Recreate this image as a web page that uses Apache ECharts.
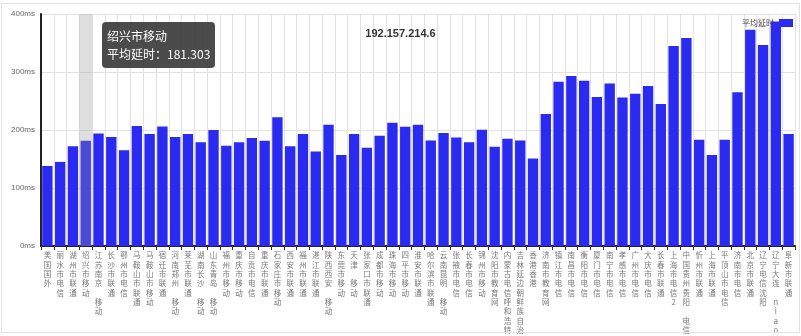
<!DOCTYPE html>
<html>
<head>
<meta charset="utf-8">
<script src="https://cdn.jsdelivr.net/npm/echarts@6/dist/echarts.min.js"></script>
<style>
html,body{margin:0;padding:0;background:#fff;}
#c{position:absolute;left:0;top:0;width:801px;height:336px;}
#frame{position:absolute;left:1px;top:3px;width:797px;height:328px;border:1px solid #e3e3e3;pointer-events:none;}
</style>
</head>
<body>
<div id="c"></div>
<div id="frame"></div>
<script>
const titleText = '192.157.214.6';
const seriesName = '平均延时';
const categories = [
  '美国国外','丽水市电信','湖州市联通','绍兴市移动','江苏南京 移动','长沙市联通','鄂州市电信','马鞍山市联通','马鞍山市移动','宿迁市联通',
  '河南郑州 移动','莱芜市联通','湖南长沙 移动','山东青岛 移动','福州市移动','重庆市移动','自贡市电信','重庆市联通','石家庄市移动','西安市联通',
  '福州市联通','湛江市联通','陕西西安 移动','东莞市移动','天津 移动','张家口市联通','成都市移动','珠海市移动','四平市移动','淮安市联通',
  '哈尔滨市联通','云南昆明 移动','张掖市电信','长春市电信','锦州市移动','沈阳市教育网','内蒙古电信呼和浩特','吉林延边朝鲜族自治州','香港香港','济南市教育网',
  '镇江市电信','南昌市电信','衡阳市电信','厦门市电信','南宁市电信','孝感市电信','广州市电信','大庆市电信','长春市联通','上海市电信2',
  '中国贵州贵阳 电信','忻州市联通','上海市联通','平顶山市电信','济南市电信','北京市联通','辽宁电信沈阳','辽宁大连 niao','阜新市联通'
];
const latency = [
  138, 145, 172, 181.303, 194, 188, 165, 207, 193, 206,
  188, 193, 179, 200, 173, 179, 186, 181.6, 222, 172,
  193, 163, 209, 157, 193, 169.5, 190, 212.6, 205.7, 209,
  182, 195, 187, 179, 200.6, 171, 185, 182, 151, 227.6,
  283, 293, 285, 257, 280, 256, 262.6, 276, 245, 345,
  358.6, 183, 157, 183, 265, 373, 346.5, 387, 193
];
const yTicks = [0, 100, 200, 300, 400];
const tipIndex = 3;

const chart = echarts.init(document.getElementById('c'), null, {renderer: 'canvas'});
chart.setOption({
  animation: false,
  title: {
    text: titleText, left: 'center', top: 23,
    textStyle: {fontSize: 11, fontWeight: 'bold', color: '#333', fontFamily: 'Liberation Sans, Arial, sans-serif'}
  },
  legend: {
    data: [seriesName], right: 3, top: 14, align: 'right', padding: 5,
    icon: 'rect',
    itemWidth: 14, itemHeight: 8, itemGap: 5,
    textStyle: {fontSize: 8, color: '#444', fontFamily: 'Noto Sans CJK SC'}
  },
  tooltip: {
    trigger: 'axis',
    alwaysShowContent: true,
    axisPointer: {type: 'shadow', z: 100, shadowStyle: {color: 'rgba(150,150,150,0.3)'}},
    position: [102, 22],
    backgroundColor: 'rgba(50,50,50,0.88)',
    borderWidth: 0,
    padding: [5, 5],
    textStyle: {color: '#fff', fontSize: 12, fontFamily: 'Noto Sans CJK SC'},
    extraCssText: 'border-radius:4px;box-shadow:none;line-height:18px;',
    formatter: function (p) {
      return p[0].name + '<br/>' + seriesName + '：' + p[0].value;
    }
  },
  grid: {left: 41, right: 6, top: 14, bottom: 90, containLabel: false, outerBoundsMode: 'none'},
  xAxis: {
    type: 'category',
    data: categories,
    boundaryGap: true,
    axisLine: {lineStyle: {color: '#222', width: 2}},
    axisTick: {show: true, interval: 0, length: 4, lineStyle: {color: '#333'}},
    splitLine: {show: true, interval: 0, lineStyle: {color: '#e2e2e2', width: 1}},
    axisLabel: {
      interval: 0, margin: 5, fontSize: 7.5, lineHeight: 9.3, color: '#777',
      fontFamily: 'Noto Sans CJK SC', verticalAlign: 'top',
      formatter: function (v) { return v.split('').join('\n'); }
    }
  },
  yAxis: {
    type: 'value',
    min: yTicks[0], max: yTicks[yTicks.length - 1], interval: yTicks[1] - yTicks[0],
    axisLine: {show: true, lineStyle: {color: '#222', width: 2}},
    axisTick: {show: false},
    splitLine: {show: true, lineStyle: {color: '#e2e2e2', width: 1}},
    axisLabel: {formatter: '{value}ms', fontSize: 8, color: '#666', margin: 6, fontFamily: 'Liberation Sans, Arial, sans-serif'}
  },
  series: [{
    name: seriesName,
    type: 'bar',
    data: latency,
    barCategoryGap: '19%',
    itemStyle: {color: '#2a2af0'},
    emphasis: {disabled: true}
  }]
});
chart.dispatchAction({type: 'showTip', seriesIndex: 0, dataIndex: tipIndex});
</script>
</body>
</html>
